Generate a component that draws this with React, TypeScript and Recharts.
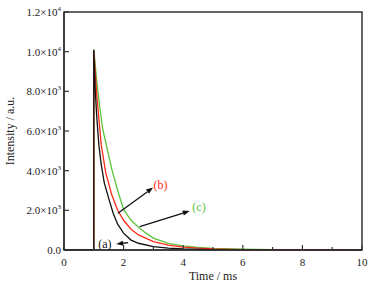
import React from 'react';
import { LineChart, Line, XAxis, YAxis, ReferenceArea, ReferenceLine, ReferenceDot } from 'recharts';

// decay curves, time in ms
const timeA = [0, 1, 1, 1.05, 1.1, 1.17, 1.25, 1.35, 1.5, 1.65, 1.8, 2.0, 2.25, 2.5, 3.0, 3.5, 4, 5, 6, 8, 10];
const valA = [20, 20, 10100, 8000, 6700, 5300, 4300, 3400, 2600, 1850, 1300, 850, 500, 340, 170, 90, 50, 20, 8, 3, 1];

const timeB = [0, 1, 1, 1.1, 1.25, 1.4, 1.6, 1.8, 2.0, 2.25, 2.5, 3, 3.5, 4, 4.5, 5, 6, 7, 8, 10];
const valB = [20, 20, 10050, 7800, 5300, 3900, 2800, 2000, 1500, 1050, 760, 420, 250, 150, 90, 55, 20, 10, 5, 2];

const timeC = [0, 1, 1, 1.1, 1.2, 1.3, 1.45, 1.6, 1.8, 2.0, 2.25, 2.5, 2.75, 3, 3.5, 4, 4.5, 5, 6, 7, 8, 10];
const valC = [20, 20, 10100, 8500, 7200, 6100, 5100, 4100, 3000, 2050, 1500, 1150, 850, 600, 330, 210, 130, 85, 40, 20, 10, 3];

const xTicks = [0, 1, 2, 3, 4, 5, 6, 7, 8, 9, 10];
const yTicks = [0, 1000, 2000, 3000, 4000, 5000, 6000, 7000, 8000, 9000, 10000, 11000, 12000];

const toRows = (ts: number[], vs: number[]) => ts.map((t, i) => ({ t, v: vs[i] }));
const dataA = toRows(timeA, valA);
const dataB = toRows(timeB, valB);
const dataC = toRows(timeC, valC);

const BLACK = '#111111';
const RED = '#ff2a1a';
const GREEN = '#5cc43a';
const AXIS = '#333333';
const txt = { fontFamily: "'Liberation Serif', serif", fontSize: 11 };

const XTick = ({ x, y, payload }: any) => {
  const major = payload.value % 2 === 0;
  return (
    <g>
      <line x1={x} x2={x} y1={y} y2={y - (major ? 5 : 3)} stroke={AXIS} strokeWidth={1.2} />
      {major && (
        <text x={x} y={y + 16} textAnchor="middle" style={txt} fill="#222">
          {payload.value}
        </text>
      )}
    </g>
  );
};

const YTick = ({ x, y, payload }: any) => {
  const v = payload.value;
  const major = v % 2000 === 0;
  let label: React.ReactNode = null;
  if (major) {
    if (v === 0) label = '0.0';
    else {
      const exp = Math.floor(Math.log10(v));
      const m = (v / Math.pow(10, exp)).toFixed(1);
      label = (
        <>
          {m}×10<tspan dy={-5} style={{ fontSize: 7 }}>{exp}</tspan>
        </>
      );
    }
  }
  return (
    <g>
      <line x1={x} x2={x + (major ? 5 : 3)} y1={y} y2={y} stroke={AXIS} strokeWidth={1.2} />
      {major && (
        <text x={x - 3} y={y + 4} textAnchor="end" style={txt} fill="#222">
          {label}
        </text>
      )}
    </g>
  );
};

const arrow = (color: string) => (p: any) => {
  const { x1, y1, x2, y2 } = p;
  const a = Math.atan2(y2 - y1, x2 - x1);
  const len = 7;
  const w = 2.6;
  const bx = x2 - len * Math.cos(a);
  const by = y2 - len * Math.sin(a);
  const px = -Math.sin(a) * w;
  const py = Math.cos(a) * w;
  return (
    <g>
      <line x1={x1} y1={y1} x2={bx} y2={by} stroke={color} strokeWidth={1.3} />
      <polygon points={`${x2},${y2} ${bx + px},${by + py} ${bx - px},${by - py}`} fill={color} />
    </g>
  );
};

const tag = (text: string, color: string) => (p: any) => (
  <text x={p.cx} y={p.cy + 4} textAnchor="middle" style={{ ...txt, fontSize: 12 }} fill={color}>
    {text}
  </text>
);

export default function App() {
  return (
    <div style={{ position: 'absolute', left: 0, top: 0, background: '#fff' }}>
      <LineChart width={374} height={285} margin={{ top: 12, right: 12, left: 4, bottom: 5 }}>
        <XAxis
          type="number"
          dataKey="t"
          domain={[0, 10]}
          ticks={xTicks}
          tick={<XTick />}
          tickSize={0}
          tickMargin={0}
          tickLine={false}
          height={30}
          stroke={AXIS}
          strokeWidth={1.5}
          label={{
            content: (props: any) => (
              <text
                x={props.viewBox.x + props.viewBox.width / 2}
                y={280}
                textAnchor="middle"
                style={{ ...txt, fontSize: 12 }}
                fill="#222"
              >
                Time / ms
              </text>
            ),
          }}
        />
        <YAxis
          type="number"
          domain={[0, 12000]}
          ticks={yTicks}
          tick={<YTick />}
          tickSize={0}
          tickMargin={0}
          tickLine={false}
          width={60}
          stroke={AXIS}
          strokeWidth={1.5}
          label={{
            content: (props: any) => {
              const cy = props.viewBox.y + props.viewBox.height / 2;
              return (
                <text
                  x={14}
                  y={cy}
                  transform={`rotate(-90, 14, ${cy})`}
                  textAnchor="middle"
                  style={{ ...txt, fontSize: 12 }}
                  fill="#222"
                >
                  Intensity / a.u.
                </text>
              );
            },
          }}
        />
        <ReferenceArea x1={0} x2={10} y1={0} y2={12000} fill="none" stroke={AXIS} strokeWidth={1.5} />
        <Line data={dataC} dataKey="v" type="linear" stroke={GREEN} strokeWidth={1.3} dot={false} isAnimationActive={false} />
        <Line data={dataB} dataKey="v" type="linear" stroke={RED} strokeWidth={1.3} dot={false} isAnimationActive={false} />
        <Line data={dataA} dataKey="v" type="linear" stroke={BLACK} strokeWidth={1.3} dot={false} isAnimationActive={false} />
        <ReferenceLine segment={[{ x: 2.15, y: 370 }, { x: 1.75, y: 300 }]} shape={arrow(BLACK)} />
        <ReferenceLine segment={[{ x: 1.81, y: 1850 }, { x: 2.99, y: 3150 }]} shape={arrow(BLACK)} />
        <ReferenceLine segment={[{ x: 2.54, y: 1180 }, { x: 4.22, y: 1970 }]} shape={arrow(BLACK)} />
        <ReferenceDot x={1.37} y={300} r={0} shape={tag('(a)', BLACK)} />
        <ReferenceDot x={3.24} y={3280} r={0} shape={tag('(b)', RED)} />
        <ReferenceDot x={4.53} y={2190} r={0} shape={tag('(c)', GREEN)} />
      </LineChart>
    </div>
  );
}
